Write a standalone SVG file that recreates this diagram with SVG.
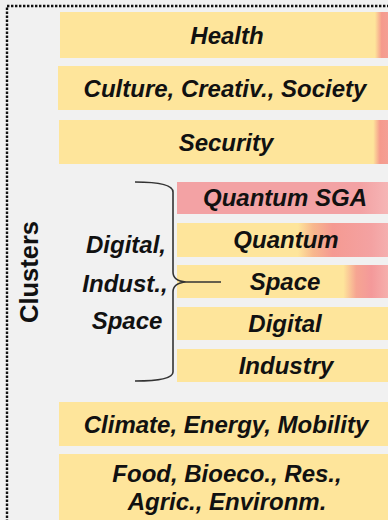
<svg xmlns="http://www.w3.org/2000/svg" width="388" height="520" viewBox="0 0 388 520">
<defs>
<style>
.bar{stroke:none}
.t{font-family:"Liberation Sans",Arial,sans-serif;font-weight:bold;font-style:italic;font-size:24px;fill:#111;text-anchor:middle}
.cl{font-family:"Liberation Sans",Arial,sans-serif;font-weight:bold;font-size:25.5px;fill:#111;text-anchor:middle}
</style>
<linearGradient id="gHealth" gradientUnits="userSpaceOnUse" x1="60" y1="0" x2="395" y2="0">
<stop offset="0.94" stop-color="#fee59b"/><stop offset="0.96" stop-color="#f59a8c"/><stop offset="1" stop-color="#f4a39b"/>
</linearGradient>
<linearGradient id="gSec" gradientUnits="userSpaceOnUse" x1="60" y1="0" x2="395" y2="0">
<stop offset="0.935" stop-color="#fee59b"/><stop offset="0.955" stop-color="#f59a8c"/><stop offset="1" stop-color="#f4a39b"/>
</linearGradient>
<linearGradient id="gSGA" gradientUnits="userSpaceOnUse" x1="177" y1="0" x2="393" y2="0">
<stop offset="0" stop-color="#f3a2a4"/><stop offset="0.85" stop-color="#f3a2a4"/><stop offset="1" stop-color="#f6b9b9"/>
</linearGradient>
<linearGradient id="gQ" gradientUnits="userSpaceOnUse" x1="177" y1="0" x2="393" y2="0">
<stop offset="0.56" stop-color="#fee59b"/><stop offset="0.63" stop-color="#f8b88e"/><stop offset="0.72" stop-color="#f59a92"/><stop offset="0.9" stop-color="#f4a2a2"/><stop offset="1" stop-color="#f5b3b3"/>
</linearGradient>
<linearGradient id="gS" gradientUnits="userSpaceOnUse" x1="177" y1="0" x2="393" y2="0">
<stop offset="0.77" stop-color="#fee59b"/><stop offset="0.83" stop-color="#f6a592"/><stop offset="0.9" stop-color="#f4999a"/><stop offset="1" stop-color="#f6b6b2"/>
</linearGradient>
</defs>
<rect x="0" y="0" width="388" height="520" fill="#f1f1f1"/>
<path d="M7,530 V6 H395" fill="none" stroke="#111" stroke-width="2.4" stroke-dasharray="2.4 1.6"/>
<g id="health"><rect class="bar" x="60" y="12" width="335" height="46" fill="url(#gHealth)"/><text class="t" x="227" y="44">Health</text></g>
<g id="culture"><rect class="bar" x="58" y="66" width="337" height="44" fill="#fee59b"/><text class="t" x="225" y="97">Culture, Creativ., Society</text></g>
<g id="security"><rect class="bar" x="59" y="120" width="336" height="44" fill="url(#gSec)"/><text class="t" x="226" y="151">Security</text></g>
<g id="quantum-sga"><rect class="bar" x="177" y="182" width="216" height="32" fill="url(#gSGA)"/><text class="t" x="285" y="206">Quantum SGA</text></g>
<g id="quantum"><rect class="bar" x="177" y="223" width="216" height="34" fill="url(#gQ)"/><text class="t" x="286" y="248">Quantum</text></g>
<g id="space"><rect class="bar" x="177" y="265" width="216" height="33" fill="url(#gS)"/><text class="t" x="285" y="290">Space</text></g>
<g id="digital"><rect class="bar" x="177" y="307" width="216" height="33" fill="#fee59b"/><text class="t" x="285" y="332">Digital</text></g>
<g id="industry"><rect class="bar" x="177" y="349" width="216" height="33" fill="#fee59b"/><text class="t" x="286" y="374">Industry</text></g>
<g id="climate"><rect class="bar" x="59" y="402" width="336" height="44" fill="#fee59b"/><text class="t" x="226" y="433">Climate, Energy, Mobility</text></g>
<g id="food"><rect class="bar" x="59" y="454" width="336" height="70" fill="#fee59b"/><text class="t" x="227" y="482">Food, Bioeco., Res.,</text><text class="t" x="227" y="510">Agric., Environm.</text></g>
<g id="cluster-label"><text class="cl" transform="translate(38,272) rotate(-90)">Clusters</text></g>
<g id="group-label"><text class="t" x="126" y="253">Digital,</text><text class="t" x="125" y="292">Indust.,</text><text class="t" x="127" y="329">Space</text></g>
<g id="connectors">
<path d="M135,182 Q173,182 173,192 V272 Q173,281 186,282 Q173,283 173,292 V372 Q173,381 135,381 M186,282 H221" fill="none" stroke="#333" stroke-width="1.6"/>
</g>
</svg>
